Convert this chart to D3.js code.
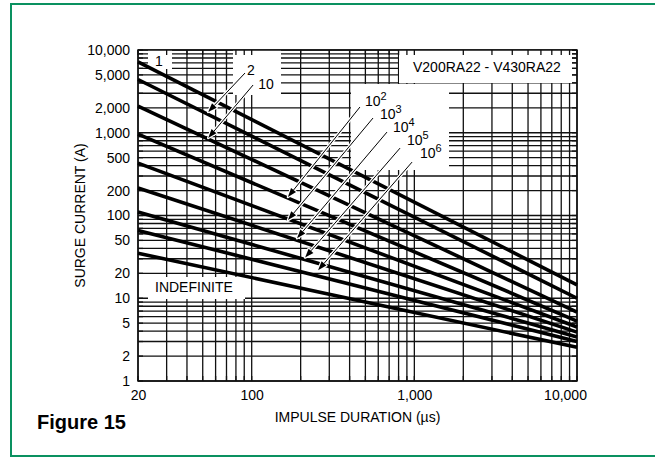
<!DOCTYPE html>
<html><head><meta charset="utf-8">
<script src="https://cdn.jsdelivr.net/npm/d3@7"></script>
<style>
body{margin:0;background:#fff;}
text{font-family:"Liberation Sans",Arial,Helvetica,sans-serif;}
</style></head>
<body><svg id="c" width="655" height="457"></svg>
<script>
// ---- data ----
const durationRange = [20, 10000];          // µs
const currentRange = [1, 10000];            // A
const xTickValues = [20, 100, 1000, 10000];
const yTickValues = [1, 2, 5, 10, 20, 50, 100, 200, 500, 1000, 2000, 5000, 10000];
const seriesNames = ["1", "2", "10", "1e2", "1e3", "1e4", "1e5", "1e6", "INDEFINITE"];
const seriesDurations = [20, 10000];
const seriesStart = [7200, 4400, 2100, 960, 430, 215, 110, 66, 35];   // A at 20 µs
const seriesEnd   = [14.5, 10, 6.8, 5.3, 4.5, 3.9, 3.4, 3.0, 2.55];     // A at 10,000 µs
// arrow annotations: [duration, current]
const arrowNames = ["2", "10", "1e2", "1e3", "1e4", "1e5", "1e6"];
const arrowTips  = [[54, 1780], [54, 863], [167, 167], [167, 88], [190, 53], [213, 31], [256, 21.8]];
const arrowTails = [[91, 5270], [102, 3775], [463, 2046], [557, 1506], [679, 1019], [817, 653], [968, 442]];

// ---- layout ----
const svg = d3.select("#c");
const L = 138, R = 577, T = 50, B = 381;
const x = d3.scaleLog().domain(durationRange).range([L, R]);
const y = d3.scaleLog().domain(currentRange).range([B, T]);
const green = "#0a9160";

svg.append("rect").attr("width", 655).attr("height", 457).attr("fill", "#fff");
svg.append("line").attr("x1", 10).attr("x2", 655).attr("y1", 4).attr("y2", 4).attr("stroke", green).attr("stroke-width", 2);
svg.append("line").attr("x1", 11).attr("x2", 11).attr("y1", 3).attr("y2", 457).attr("stroke", green).attr("stroke-width", 2);
svg.append("line").attr("x1", 10).attr("x2", 655).attr("y1", 456).attr("y2", 456).attr("stroke", green).attr("stroke-width", 2);

const gx = [], gy = [];
for (let d = 10; d <= 10000; d *= 10) for (let k = 1; k <= 9; k++) { const v = d * k; if (v >= 20 && v <= 10000) gx.push(v); }
for (let d = 1; d <= 10000; d *= 10) for (let k = 1; k <= 9; k++) { const v = d * k; if (v <= 10000) gy.push(v); }

const grid = svg.append("g").attr("stroke", "#111").attr("stroke-width", 1.3);
grid.selectAll(".vx").data(gx).join("line").attr("x1", d => x(d)).attr("x2", d => x(d)).attr("y1", T).attr("y2", B);
grid.selectAll(".hy").data(gy).join("line").attr("y1", d => y(d)).attr("y2", d => y(d)).attr("x1", L).attr("x2", R);

// white label boxes
const boxes = [[148, 50, 24, 19], [233, 50, 48, 45], [399, 50, 173, 33], [351, 84, 98, 86], [148, 277, 97, 22]];
svg.selectAll(".box").data(boxes).join("rect").attr("x", d => d[0]).attr("y", d => d[1]).attr("width", d => d[2]).attr("height", d => d[3]).attr("fill", "#fff");

// inward ticks on frame
const tk = 5;
const ticks = svg.append("g").attr("stroke", "#111").attr("stroke-width", 1.3);
gx.forEach(v => {
  ticks.append("line").attr("x1", x(v)).attr("x2", x(v)).attr("y1", T).attr("y2", T + tk);
  ticks.append("line").attr("x1", x(v)).attr("x2", x(v)).attr("y1", B).attr("y2", B - tk);
});
gy.forEach(v => {
  ticks.append("line").attr("y1", y(v)).attr("y2", y(v)).attr("x1", L).attr("x2", L + tk);
  ticks.append("line").attr("y1", y(v)).attr("y2", y(v)).attr("x1", R).attr("x2", R - tk);
});
svg.append("rect").attr("x", L).attr("y", T).attr("width", R - L).attr("height", B - T)
  .attr("fill", "none").attr("stroke", "#111").attr("stroke-width", 1.5);

// curves
const line = d3.line().x(d => x(d[0])).y(d => y(d[1]));
const series = seriesNames.map((n, i) => [[seriesDurations[0], seriesStart[i]], [seriesDurations[1], seriesEnd[i]]]);
svg.append("g").selectAll("path").data(series).join("path")
  .attr("d", line).attr("fill", "none").attr("stroke", "#000").attr("stroke-width", 3.6);

// arrows with white halo
const ag = svg.append("g");
arrowNames.forEach((n, i) => {
  const x1 = x(arrowTails[i][0]), y1 = y(arrowTails[i][1]);
  const x2 = x(arrowTips[i][0]), y2 = y(arrowTips[i][1]);
  const a = Math.atan2(y2 - y1, x2 - x1);
  const hl = 9, hw = 3.2;
  const bx = x2 - hl * Math.cos(a), by = y2 - hl * Math.sin(a);
  const p1 = [bx + hw * Math.sin(a), by - hw * Math.cos(a)];
  const p2 = [bx - hw * Math.sin(a), by + hw * Math.cos(a)];
  const head = `M${x2},${y2}L${p1[0]},${p1[1]}L${p2[0]},${p2[1]}Z`;
  ag.append("line").attr("x1", x1).attr("y1", y1).attr("x2", bx).attr("y2", by).attr("stroke", "#fff").attr("stroke-width", 3.4);
  ag.append("path").attr("d", head).attr("fill", "#fff").attr("stroke", "#fff").attr("stroke-width", 2.4).attr("stroke-linejoin", "round");
  ag.append("line").attr("x1", x1).attr("y1", y1).attr("x2", bx).attr("y2", by).attr("stroke", "#000").attr("stroke-width", 1);
  ag.append("path").attr("d", head).attr("fill", "#000");
});

// labels
const lab = svg.append("g").attr("font-size", 14).attr("fill", "#000");
lab.append("text").attr("x", 159).attr("y", 66).attr("text-anchor", "middle").text("1");
lab.append("text").attr("x", 251).attr("y", 75).attr("text-anchor", "middle").text("2");
lab.append("text").attr("x", 266).attr("y", 89).attr("text-anchor", "middle").text("10");
lab.append("text").attr("x", 413).attr("y", 72).text("V200RA22 - V430RA22");
lab.append("text").attr("x", 155).attr("y", 292).text("INDEFINITE");
const sup = [["2", 365, 106], ["3", 380, 119], ["4", 393, 132], ["5", 407, 145], ["6", 420, 158]];
sup.forEach(s => {
  const t = lab.append("text").attr("x", s[1]).attr("y", s[2]);
  t.append("tspan").text("10");
  t.append("tspan").attr("dy", -6).attr("font-size", 11).text(s[0]);
});

// axes
const fmt = d3.format(",");
const xa = svg.append("g").attr("transform", `translate(0,${B})`)
  .call(d3.axisBottom(x).tickValues(xTickValues).tickFormat(fmt).tickSize(0).tickPadding(9));
xa.select(".domain").remove();
xa.selectAll("text").attr("font-size", 14).attr("font-family", "Liberation Sans, Arial, sans-serif").attr("fill", "#000")
  .attr("dx", d => d === 10000 ? -12 : 0);
const ya = svg.append("g").attr("transform", `translate(${L},0)`)
  .call(d3.axisLeft(y).tickValues(yTickValues).tickFormat(fmt).tickSize(0).tickPadding(8));
ya.select(".domain").remove();
ya.selectAll("text").attr("font-size", 14).attr("font-family", "Liberation Sans, Arial, sans-serif").attr("fill", "#000");

svg.append("text").attr("x", (L + R) / 2).attr("y", 422).attr("text-anchor", "middle").attr("font-size", 14).text("IMPULSE DURATION (µs)");
svg.append("text").attr("transform", `translate(85,${(T + B) / 2}) rotate(-90)`).attr("text-anchor", "middle").attr("font-size", 14).text("SURGE CURRENT (A)");
svg.append("text").attr("x", 37).attr("y", 429).attr("font-size", 20).attr("font-weight", "bold").text("Figure 15");
</script></body></html>
